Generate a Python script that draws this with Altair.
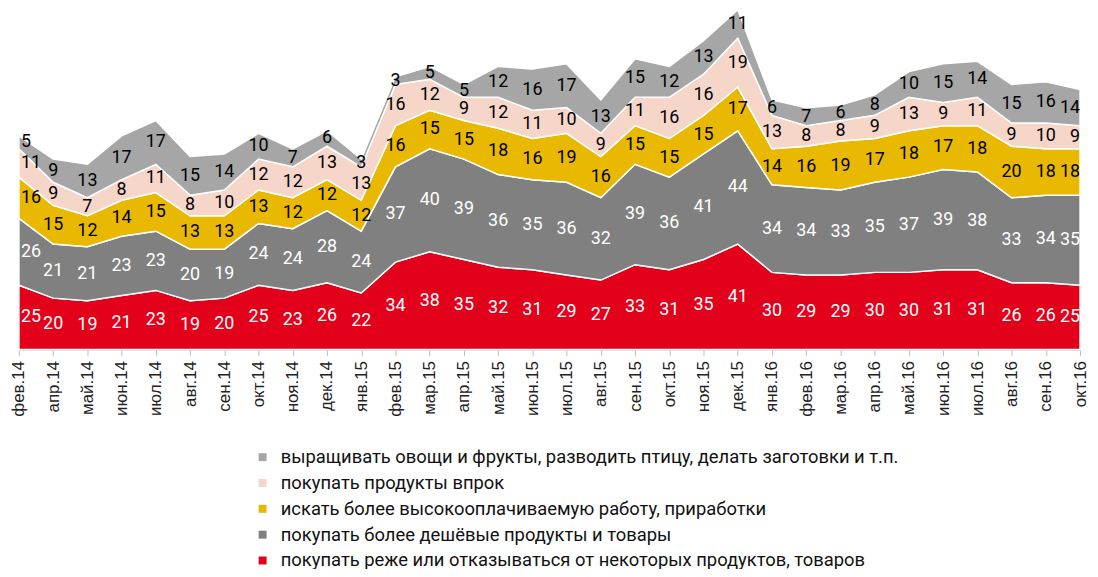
import altair as alt
import pandas as pd

months = ["фев.14", "апр.14", "май.14", "июн.14", "июл.14", "авг.14", "сен.14", "окт.14",
          "ноя.14", "дек.14", "янв.15", "фев.15", "мар.15", "апр.15", "май.15", "июн.15",
          "июл.15", "авг.15", "сен.15", "окт.15", "ноя.15", "дек.15", "янв.16", "фев.16",
          "мар.16", "апр.16", "май.16", "июн.16", "июл.16", "авг.16", "сен.16", "окт.16"]

s_red = [25, 20, 19, 21, 23, 19, 20, 25, 23, 26, 22, 34, 38, 35, 32, 31, 29, 27, 33, 31, 35, 41,
         30, 29, 29, 30, 30, 31, 31, 26, 26, 25]
s_dgrey = [26, 21, 21, 23, 23, 20, 19, 24, 24, 28, 24, 37, 40, 39, 36, 35, 36, 32, 39, 36, 41, 44,
           34, 34, 33, 35, 37, 39, 38, 33, 34, 35]
s_yellow = [16, 15, 12, 14, 15, 13, 13, 13, 12, 12, 12, 16, 15, 15, 18, 16, 19, 16, 15, 15, 15, 17,
            14, 16, 19, 17, 18, 17, 18, 20, 18, 18]
s_pink = [11, 9, 7, 8, 11, 8, 10, 12, 12, 13, 13, 16, 12, 9, 12, 11, 10, 9, 11, 16, 16, 19,
          13, 8, 8, 9, 13, 9, 11, 9, 10, 9]
s_lgrey = [5, 9, 13, 17, 17, 15, 14, 10, 7, 6, 3, 3, 5, 5, 12, 16, 17, 13, 15, 12, 13, 11,
           6, 7, 6, 8, 10, 15, 14, 15, 16, 14]

names = [
    "покупать реже или отказываться от некоторых продуктов, товаров",
    "покупать более дешёвые продукты и товары",
    "искать более высокооплачиваемую работу, приработки",
    "покупать продукты впрок",
    "выращивать овощи и фрукты, разводить птицу, делать заготовки и т.п.",
]
colors = ["#E2001A", "#808080", "#E9B800", "#F6D6C9", "#A6A6A6"]
text_colors = ["white", "white", "black", "black", "black"]
series = [s_red, s_dgrey, s_yellow, s_pink, s_lgrey]

rows = []
for k, (nm, vals) in enumerate(zip(names, series)):
    for i, (m, v) in enumerate(zip(months, vals)):
        pos = "first" if i == 0 else ("last" if i == len(months) - 1 else "mid")
        rows.append({"month": m, "series": nm, "value": v, "ord": k,
                     "tcol": text_colors[k], "pos": pos})
df = pd.DataFrame(rows)

FONT = "Roboto, sans-serif"
AXFONT = "Liberation Sans, Arial, sans-serif"

x_axis = alt.Axis(title=None, labelAngle=-90, labelFontSize=17, labelColor="#222222",
                  labelFont=AXFONT, domainColor="#BFBFBF", tickColor="#BFBFBF",
                  tickSize=6, labelPadding=5, grid=False)
x_enc = alt.X("month:O", sort=months, scale=alt.Scale(padding=0), axis=x_axis)
y_scale = alt.Scale(domain=[0, 132], nice=False, zero=True)

legend_order = names[::-1]
legend_colors = colors[::-1]

base = alt.Chart(df)

area = base.mark_area(stroke="white", strokeWidth=1.5, interpolate="linear").encode(
    x=x_enc,
    y=alt.Y("value:Q", stack="zero", scale=y_scale, axis=None),
    color=alt.Color("series:N", scale=alt.Scale(domain=legend_order, range=legend_colors),
                    legend=alt.Legend(title=None, orient="none", legendX=236, legendY=441,
                                      symbolType="square", symbolSize=64, symbolStrokeWidth=0,
                                      labelFontSize=18.5, labelFont=FONT, labelColor="#111111",
                                      labelLimit=1000, rowPadding=7, direction="vertical",
                                      symbolOffset=0, labelOffset=9)),
    order=alt.Order("ord:Q", sort="ascending"),
)

stacked = base.transform_stack(
    stack="value", groupby=["month"], as_=["y0", "y1"], sort=[alt.SortField("ord", order="ascending")]
).transform_calculate(mid="(datum.y0 + datum.y1) / 2")


def label_layer(pos, align, dx):
    return stacked.transform_filter(alt.datum.pos == pos).mark_text(
        fontSize=18, font=FONT, baseline="middle", align=align, dx=dx
    ).encode(
        x=x_enc,
        y=alt.Y("mid:Q", scale=y_scale, axis=None),
        text=alt.Text("value:Q"),
        color=alt.Color("tcol:N", scale=None, legend=None),
    )


labels_mid = label_layer("mid", "center", 0)
labels_first = label_layer("first", "left", 2)
labels_last = label_layer("last", "right", 0)

chart = alt.layer(area, labels_mid, labels_first, labels_last).properties(
    width=1068, height=342,
    padding={"left": 11, "top": 0, "right": 10, "bottom": 219},
    autosize=alt.AutoSizeParams(type="none"),
    background="white",
).configure_view(strokeWidth=0, stroke="transparent")

chart.save("out.html", embed_options={"renderer": "svg", "actions": False})
